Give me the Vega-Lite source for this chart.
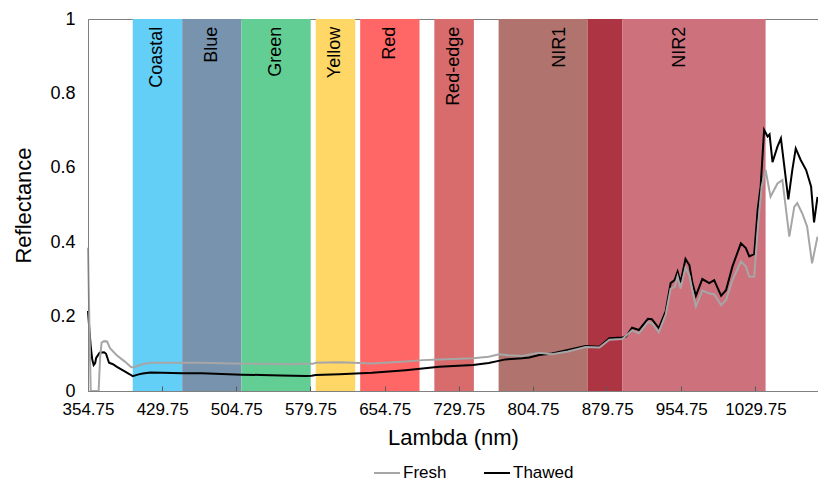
{
  "$schema": "https://vega.github.io/schema/vega-lite/v6.json",
  "width": 730,
  "height": 372,
  "autosize": {"type": "none"},
  "padding": {"left": 88, "top": 19, "right": 0, "bottom": 90},
  "background": "white",
  "config": {
    "font": "Liberation Sans",
    "view": {"stroke": "#808080", "strokeWidth": 1}
  },
  "datasets": {
    "bands": [
      {"band": "Coastal", "label": "Coastal", "start": 400, "end": 450, "mid": 425},
      {"band": "Blue", "label": "Blue", "start": 450, "end": 510, "mid": 480},
      {"band": "Green", "label": "Green", "start": 510, "end": 580, "mid": 545},
      {"band": "Yellow", "label": "Yellow", "start": 585, "end": 625, "mid": 605},
      {"band": "Red", "label": "Red", "start": 630, "end": 690, "mid": 660},
      {"band": "Red-edge", "label": "Red-edge", "start": 705, "end": 745, "mid": 725},
      {"band": "NIR1", "label": "NIR1", "start": 770, "end": 860, "mid": 832.5},
      {"band": "NIR1+NIR2", "label": "", "start": 860, "end": 895, "mid": 877.5},
      {"band": "NIR2", "label": "NIR2", "start": 895, "end": 1040, "mid": 953}
    ],
    "spectra": [
      {"s": "Thawed", "nm": 354.75, "r": 0.215},
      {"s": "Thawed", "nm": 356, "r": 0.17},
      {"s": "Thawed", "nm": 357.5, "r": 0.12},
      {"s": "Thawed", "nm": 359, "r": 0.085},
      {"s": "Thawed", "nm": 360.5, "r": 0.07},
      {"s": "Thawed", "nm": 362, "r": 0.075},
      {"s": "Thawed", "nm": 363, "r": 0.089},
      {"s": "Thawed", "nm": 366.5, "r": 0.103},
      {"s": "Thawed", "nm": 371, "r": 0.104},
      {"s": "Thawed", "nm": 373, "r": 0.1},
      {"s": "Thawed", "nm": 376, "r": 0.076},
      {"s": "Thawed", "nm": 380, "r": 0.072},
      {"s": "Thawed", "nm": 384, "r": 0.065},
      {"s": "Thawed", "nm": 391, "r": 0.054},
      {"s": "Thawed", "nm": 397, "r": 0.045},
      {"s": "Thawed", "nm": 400, "r": 0.04},
      {"s": "Thawed", "nm": 405, "r": 0.044},
      {"s": "Thawed", "nm": 410, "r": 0.047},
      {"s": "Thawed", "nm": 418, "r": 0.05},
      {"s": "Thawed", "nm": 430, "r": 0.049},
      {"s": "Thawed", "nm": 450, "r": 0.048},
      {"s": "Thawed", "nm": 470, "r": 0.048},
      {"s": "Thawed", "nm": 490, "r": 0.046},
      {"s": "Thawed", "nm": 510, "r": 0.044},
      {"s": "Thawed", "nm": 530, "r": 0.043},
      {"s": "Thawed", "nm": 550, "r": 0.042},
      {"s": "Thawed", "nm": 575, "r": 0.04},
      {"s": "Thawed", "nm": 581, "r": 0.041},
      {"s": "Thawed", "nm": 585, "r": 0.043},
      {"s": "Thawed", "nm": 609, "r": 0.045},
      {"s": "Thawed", "nm": 642, "r": 0.049},
      {"s": "Thawed", "nm": 676, "r": 0.056},
      {"s": "Thawed", "nm": 710, "r": 0.065},
      {"s": "Thawed", "nm": 744, "r": 0.07},
      {"s": "Thawed", "nm": 760, "r": 0.075},
      {"s": "Thawed", "nm": 770, "r": 0.081},
      {"s": "Thawed", "nm": 777, "r": 0.085},
      {"s": "Thawed", "nm": 794, "r": 0.088},
      {"s": "Thawed", "nm": 801, "r": 0.09},
      {"s": "Thawed", "nm": 811, "r": 0.097},
      {"s": "Thawed", "nm": 824, "r": 0.101},
      {"s": "Thawed", "nm": 840, "r": 0.11},
      {"s": "Thawed", "nm": 858, "r": 0.121},
      {"s": "Thawed", "nm": 872, "r": 0.119},
      {"s": "Thawed", "nm": 882, "r": 0.142},
      {"s": "Thawed", "nm": 895, "r": 0.144},
      {"s": "Thawed", "nm": 899, "r": 0.147},
      {"s": "Thawed", "nm": 905, "r": 0.17},
      {"s": "Thawed", "nm": 912, "r": 0.164},
      {"s": "Thawed", "nm": 921, "r": 0.194},
      {"s": "Thawed", "nm": 925, "r": 0.193},
      {"s": "Thawed", "nm": 932, "r": 0.169},
      {"s": "Thawed", "nm": 939, "r": 0.215},
      {"s": "Thawed", "nm": 944, "r": 0.29},
      {"s": "Thawed", "nm": 948, "r": 0.298},
      {"s": "Thawed", "nm": 951, "r": 0.321},
      {"s": "Thawed", "nm": 954, "r": 0.292},
      {"s": "Thawed", "nm": 959, "r": 0.355},
      {"s": "Thawed", "nm": 963, "r": 0.338},
      {"s": "Thawed", "nm": 966, "r": 0.29},
      {"s": "Thawed", "nm": 969.5, "r": 0.256},
      {"s": "Thawed", "nm": 976, "r": 0.301},
      {"s": "Thawed", "nm": 983, "r": 0.29},
      {"s": "Thawed", "nm": 988, "r": 0.298},
      {"s": "Thawed", "nm": 995, "r": 0.256},
      {"s": "Thawed", "nm": 1000, "r": 0.271},
      {"s": "Thawed", "nm": 1006.5, "r": 0.335},
      {"s": "Thawed", "nm": 1015, "r": 0.397},
      {"s": "Thawed", "nm": 1020, "r": 0.384},
      {"s": "Thawed", "nm": 1023.5, "r": 0.362},
      {"s": "Thawed", "nm": 1028.5, "r": 0.368},
      {"s": "Thawed", "nm": 1032, "r": 0.487},
      {"s": "Thawed", "nm": 1035, "r": 0.55},
      {"s": "Thawed", "nm": 1038.5, "r": 0.702},
      {"s": "Thawed", "nm": 1042, "r": 0.684},
      {"s": "Thawed", "nm": 1044, "r": 0.69},
      {"s": "Thawed", "nm": 1047, "r": 0.615},
      {"s": "Thawed", "nm": 1052, "r": 0.657},
      {"s": "Thawed", "nm": 1055.5, "r": 0.679},
      {"s": "Thawed", "nm": 1063, "r": 0.515},
      {"s": "Thawed", "nm": 1067, "r": 0.594},
      {"s": "Thawed", "nm": 1070.5, "r": 0.652},
      {"s": "Thawed", "nm": 1075.5, "r": 0.621},
      {"s": "Thawed", "nm": 1081, "r": 0.594},
      {"s": "Thawed", "nm": 1086, "r": 0.55},
      {"s": "Thawed", "nm": 1089, "r": 0.453},
      {"s": "Thawed", "nm": 1092.5, "r": 0.522},
      {"s": "Fresh", "nm": 354.75, "r": 0.385},
      {"s": "Fresh", "nm": 356, "r": 0.2},
      {"s": "Fresh", "nm": 357.5, "r": 0.0},
      {"s": "Fresh", "nm": 365.5, "r": 0.0},
      {"s": "Fresh", "nm": 367, "r": 0.09},
      {"s": "Fresh", "nm": 368.5, "r": 0.13},
      {"s": "Fresh", "nm": 371, "r": 0.134},
      {"s": "Fresh", "nm": 374, "r": 0.133},
      {"s": "Fresh", "nm": 377, "r": 0.115},
      {"s": "Fresh", "nm": 383.5, "r": 0.097},
      {"s": "Fresh", "nm": 392, "r": 0.079},
      {"s": "Fresh", "nm": 398.5, "r": 0.064},
      {"s": "Fresh", "nm": 401, "r": 0.064},
      {"s": "Fresh", "nm": 407, "r": 0.07},
      {"s": "Fresh", "nm": 417, "r": 0.076},
      {"s": "Fresh", "nm": 440, "r": 0.076},
      {"s": "Fresh", "nm": 470, "r": 0.076},
      {"s": "Fresh", "nm": 500, "r": 0.074},
      {"s": "Fresh", "nm": 530, "r": 0.073},
      {"s": "Fresh", "nm": 560, "r": 0.072},
      {"s": "Fresh", "nm": 575, "r": 0.073},
      {"s": "Fresh", "nm": 582, "r": 0.073},
      {"s": "Fresh", "nm": 585, "r": 0.076},
      {"s": "Fresh", "nm": 609, "r": 0.077},
      {"s": "Fresh", "nm": 642, "r": 0.074},
      {"s": "Fresh", "nm": 676, "r": 0.079},
      {"s": "Fresh", "nm": 693, "r": 0.083},
      {"s": "Fresh", "nm": 710, "r": 0.085},
      {"s": "Fresh", "nm": 744, "r": 0.088},
      {"s": "Fresh", "nm": 760, "r": 0.092},
      {"s": "Fresh", "nm": 770.5, "r": 0.099},
      {"s": "Fresh", "nm": 780, "r": 0.096},
      {"s": "Fresh", "nm": 794, "r": 0.094},
      {"s": "Fresh", "nm": 811, "r": 0.103},
      {"s": "Fresh", "nm": 824, "r": 0.099},
      {"s": "Fresh", "nm": 840, "r": 0.106},
      {"s": "Fresh", "nm": 858, "r": 0.118},
      {"s": "Fresh", "nm": 872, "r": 0.117},
      {"s": "Fresh", "nm": 882, "r": 0.138},
      {"s": "Fresh", "nm": 895, "r": 0.14},
      {"s": "Fresh", "nm": 905, "r": 0.163},
      {"s": "Fresh", "nm": 912, "r": 0.155},
      {"s": "Fresh", "nm": 921, "r": 0.185},
      {"s": "Fresh", "nm": 925, "r": 0.183},
      {"s": "Fresh", "nm": 932, "r": 0.158},
      {"s": "Fresh", "nm": 939, "r": 0.205},
      {"s": "Fresh", "nm": 944, "r": 0.275},
      {"s": "Fresh", "nm": 948, "r": 0.28},
      {"s": "Fresh", "nm": 951, "r": 0.308},
      {"s": "Fresh", "nm": 954, "r": 0.275},
      {"s": "Fresh", "nm": 959, "r": 0.332},
      {"s": "Fresh", "nm": 963, "r": 0.31},
      {"s": "Fresh", "nm": 966, "r": 0.27},
      {"s": "Fresh", "nm": 969.5, "r": 0.227},
      {"s": "Fresh", "nm": 976, "r": 0.27},
      {"s": "Fresh", "nm": 983, "r": 0.262},
      {"s": "Fresh", "nm": 988, "r": 0.26},
      {"s": "Fresh", "nm": 995, "r": 0.231},
      {"s": "Fresh", "nm": 1000, "r": 0.245},
      {"s": "Fresh", "nm": 1006.5, "r": 0.298},
      {"s": "Fresh", "nm": 1015, "r": 0.348},
      {"s": "Fresh", "nm": 1020, "r": 0.335},
      {"s": "Fresh", "nm": 1023.5, "r": 0.307},
      {"s": "Fresh", "nm": 1028.5, "r": 0.307},
      {"s": "Fresh", "nm": 1032, "r": 0.433},
      {"s": "Fresh", "nm": 1036, "r": 0.549},
      {"s": "Fresh", "nm": 1040, "r": 0.594},
      {"s": "Fresh", "nm": 1045, "r": 0.522},
      {"s": "Fresh", "nm": 1052, "r": 0.558},
      {"s": "Fresh", "nm": 1057, "r": 0.567},
      {"s": "Fresh", "nm": 1064, "r": 0.415},
      {"s": "Fresh", "nm": 1069, "r": 0.495},
      {"s": "Fresh", "nm": 1072, "r": 0.505},
      {"s": "Fresh", "nm": 1077, "r": 0.478},
      {"s": "Fresh", "nm": 1082, "r": 0.442},
      {"s": "Fresh", "nm": 1087, "r": 0.343},
      {"s": "Fresh", "nm": 1092.5, "r": 0.415}
    ]
  },
  "layer": [
    {
      "data": {"name": "bands"},
      "mark": {"type": "rect"},
      "encoding": {
        "x": {
          "field": "start",
          "type": "quantitative",
          "title": "Lambda (nm)",
          "scale": {"domain": [354.75, 1093], "nice": false, "zero": false},
          "axis": {
            "title": "Lambda (nm)",
            "values": [354.75, 429.75, 504.75, 579.75, 654.75, 729.75, 804.75, 879.75, 954.75, 1029.75],
            "format": ".2f",
            "labelFontSize": 17,
            "labelColor": "#000000",
            "labelPadding": 15,
            "labelFlush": false,
            "labelOverlap": false,
            "tickSize": -5,
            "tickColor": "#595959",
            "domainColor": "#808080",
            "grid": false,
            "titleFontSize": 22,
            "titleFontWeight": "normal",
            "titleColor": "#000000",
            "titlePadding": 10,
            "zindex": 1
          }
        },
        "x2": {"field": "end"},
        "y": {
          "datum": 0,
          "type": "quantitative",
          "title": "Reflectance",
          "scale": {"domain": [0, 1], "nice": false},
          "axis": {
            "title": "Reflectance",
            "values": [0, 0.2, 0.4, 0.6, 0.8, 1],
            "format": ".1~f",
            "labelFontSize": 18,
            "labelColor": "#000000",
            "labelPadding": 13,
            "labelFlush": false,
            "ticks": false,
            "domainColor": "#808080",
            "grid": false,
            "titleFontSize": 22,
            "titleFontWeight": "normal",
            "titleColor": "#000000",
            "titlePadding": 14,
            "zindex": 1
          }
        },
        "y2": {"datum": 1},
        "fill": {
          "field": "band",
          "type": "nominal",
          "scale": {
            "domain": ["Coastal", "Blue", "Green", "Yellow", "Red", "Red-edge", "NIR1", "NIR1+NIR2", "NIR2"],
            "range": ["#63CEF6", "#7893AE", "#63CE94", "#FED766", "#FF6666", "#D86B6B", "#B0736E", "#AD3443", "#CD717D"]
          },
          "legend": null
        }
      }
    },
    {
      "data": {"name": "bands"},
      "transform": [{"filter": "datum.label != ''"}],
      "mark": {"type": "text", "angle": 270, "align": "right", "baseline": "middle", "fontSize": 18, "color": "#000000"},
      "encoding": {
        "x": {"field": "mid", "type": "quantitative", "title": "Lambda (nm)"},
        "y": {"datum": 0.979, "type": "quantitative", "title": "Reflectance"},
        "text": {"field": "label"}
      }
    },
    {
      "data": {"name": "spectra"},
      "mark": {"type": "line", "strokeWidth": 2, "interpolate": "linear"},
      "encoding": {
        "x": {"field": "nm", "type": "quantitative", "title": "Lambda (nm)"},
        "y": {"field": "r", "type": "quantitative", "title": "Reflectance"},
        "stroke": {
          "field": "s",
          "type": "nominal",
          "scale": {"domain": ["Fresh", "Thawed"], "range": ["#A6A6A6", "#000000"]},
          "legend": {
            "title": null,
            "orient": "none",
            "legendX": 285,
            "legendY": 440,
            "direction": "horizontal",
            "symbolType": "stroke",
            "symbolSize": 676,
            "symbolStrokeWidth": 2,
            "labelFontSize": 17,
            "labelColor": "#000000",
            "columnPadding": 33,
            "labelOffset": 2
          }
        }
      }
    }
  ]
}
